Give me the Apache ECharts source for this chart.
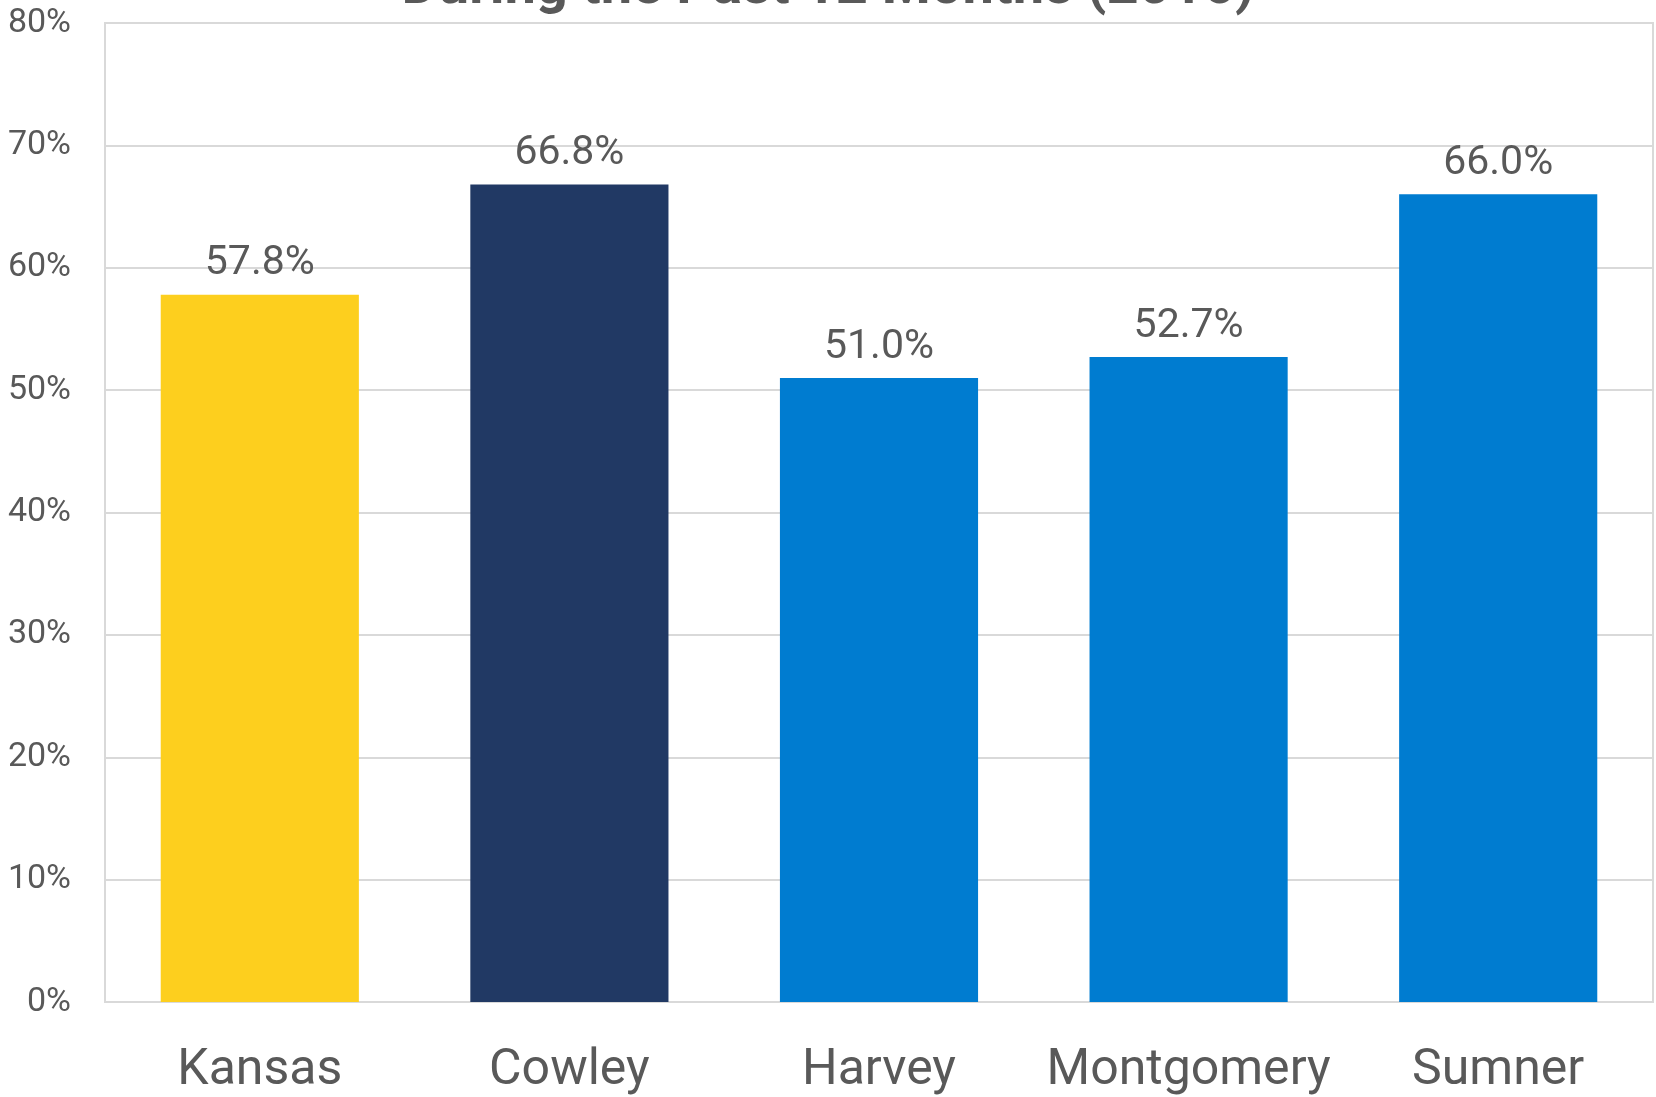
<!DOCTYPE html>
<html>
<head>
<meta charset="utf-8">
<script src="https://cdn.jsdelivr.net/npm/echarts@6/dist/echarts.min.js"></script>
<style>
  html, body { margin: 0; padding: 0; background: #fff; }
  #chart { width: 1656px; height: 1097px; }
</style>
</head>
<body>
<div id="chart"></div>
<script>
const counties = ['Kansas', 'Cowley', 'Harvey', 'Montgomery', 'Sumner']
const percents = [57.8, 66.8, 51.0, 52.7, 66.0]
const barColors = ['#FDCF1E', '#213964', '#007CD0', '#007CD0', '#007CD0']
const titleText = 'During the Past 12 Months (2016)'

const chart = echarts.init(document.getElementById('chart'))
const textColor = '#595959'
const font = 'Roboto'

chart.setOption({
  animation: false,
  title: {
    text: titleText,
    left: 'center',
    top: -44,
    textStyle: { fontFamily: font, fontSize: 56, fontWeight: 'bold', color: textColor, lineHeight: 56 }
  },
  grid: {
    left: 105,
    right: 3,
    top: 23,
    bottom: 95,
    show: true,
    borderColor: '#d9d9d9',
    borderWidth: 2
  },
  xAxis: {
    type: 'category',
    data: counties,
    axisLine: { show: true, lineStyle: { color: '#d9d9d9', width: 2 } },
    axisTick: { show: false },
    axisLabel: { interval: 0, fontFamily: font, fontSize: 50, color: textColor, margin: 44 }
  },
  yAxis: {
    type: 'value',
    min: 0,
    max: 80,
    interval: 10,
    axisLine: { show: false },
    axisTick: { show: false },
    splitLine: { lineStyle: { color: '#d9d9d9', width: 2 } },
    axisLabel: { formatter: '{value}%', fontFamily: font, fontSize: 34, color: textColor, margin: 34 }
  },
  series: [{
    type: 'bar',
    barWidth: '64%',
    data: percents.map((v, i) => ({ value: v, itemStyle: { color: barColors[i] } })),
    label: {
      show: true,
      position: 'top',
      distance: 10,
      formatter: p => p.value.toFixed(1) + '%',
      fontFamily: font,
      fontSize: 41,
      color: textColor
    }
  }]
})
</script>
</body>
</html>
